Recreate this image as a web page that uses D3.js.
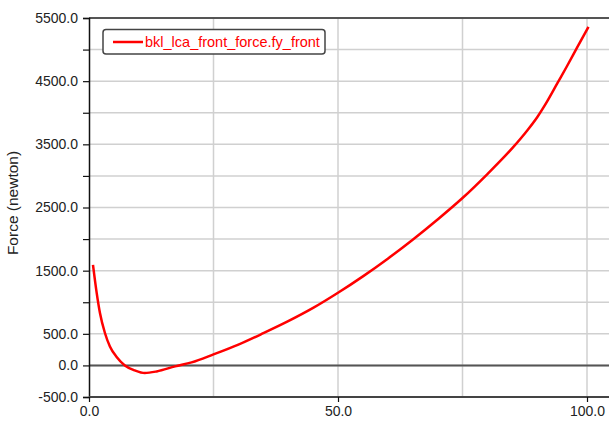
<!DOCTYPE html>
<html>
<head>
<meta charset="utf-8">
<script src="https://cdn.jsdelivr.net/npm/d3@7"></script>
<style>
  body { margin: 0; background: #fff; }
  text { font-family: "Liberation Sans", Arial, sans-serif; }
</style>
</head>
<body>
<div id="chart"></div>
<script>
var width = 609,
    height = 423;

// values
var timeVals = [0.8, 1.55, 2.2, 3.2, 4.2, 5.55, 7.2, 9.2, 11.2, 13.6, 17.3, 20.6, 25, 30, 35, 40, 45, 50, 55, 60, 65, 70, 75, 80, 85, 88, 90, 92, 94, 96, 98, 100.3];
var forceVals = [1593, 1145, 829, 513, 300, 133, 0, -79, -120, -95, -15, 48, 175, 330, 510, 700, 910, 1150, 1410, 1690, 1990, 2310, 2650, 3030, 3440, 3720, 3930, 4180, 4460, 4740, 5030, 5360];
var yTicks = [-500, 0, 500, 1000, 1500, 2000, 2500, 3000, 3500, 4000, 4500, 5000, 5500];
var yLabels = [-500, 0, 500, 1500, 2500, 3500, 4500, 5500];
var xGrid = [25, 50, 75, 100];
var xLabels = [0, 50, 100];
var seriesName = "bkl_lca_front_force.fy_front";

var svg = d3.select("#chart")
    .append("svg")
    .attr("width", width)
    .attr("height", height)

var x = d3.scaleLinear().domain([0, 100]).range([89, 587])
var y = d3.scaleLinear().domain([-500, 5500]).range([397, 18])

var left = x(0), right = width

// grid
svg.selectAll(".hgrid")
    .data(yTicks)
    .enter().append("line")
    .attr("class", "hgrid")
    .attr("x1", left).attr("x2", right)
    .attr("y1", d => y(d)).attr("y2", d => y(d))
    .attr("stroke", "#d0d0d0")
    .attr("stroke-width", 1.5)

svg.selectAll(".vgrid")
    .data(xGrid)
    .enter().append("line")
    .attr("class", "vgrid")
    .attr("x1", d => x(d)).attr("x2", d => x(d))
    .attr("y1", y(5500)).attr("y2", y(-500))
    .attr("stroke", "#d0d0d0")
    .attr("stroke-width", 1.5)

// frame lines
svg.append("line")
    .attr("x1", left).attr("x2", right)
    .attr("y1", y(5500)).attr("y2", y(5500))
    .attr("stroke", "#555").attr("stroke-width", 2)
svg.append("line")
    .attr("x1", left).attr("x2", right)
    .attr("y1", y(0)).attr("y2", y(0))
    .attr("stroke", "#555").attr("stroke-width", 2)

// y axis
var yAxis = d3.axisLeft(y)
    .tickValues(yTicks)
    .tickSize(6)
    .tickFormat(d => yLabels.indexOf(d) >= 0 ? d.toFixed(1) : "")
var gy = svg.append("g")
    .attr("transform", "translate(" + left + ",0)")
    .call(yAxis)
gy.select(".domain").attr("stroke", "#111").attr("stroke-width", 1.5)
gy.selectAll(".tick line").attr("stroke", "#111").attr("stroke-width", 1.2)
gy.selectAll(".tick text")
    .attr("x", -11)
    .attr("fill", "#222")
    .style("font-size", "14px")
    .style("font-family", "Liberation Sans, Arial, sans-serif")

// x axis
var xAxis = d3.axisBottom(x)
    .tickValues(xLabels)
    .tickSize(5)
    .tickSizeOuter(0)
    .tickFormat(d => d.toFixed(1))
var gx = svg.append("g")
    .attr("transform", "translate(0," + y(-500) + ")")
    .call(xAxis)
gx.select(".domain").attr("d", "M" + left + ",0H" + right).attr("stroke", "#444").attr("stroke-width", 2)
gx.selectAll(".tick line").attr("stroke", "#111").attr("stroke-width", 1.2)
gx.selectAll(".tick text")
    .attr("y", 9)
    .attr("fill", "#222")
    .style("font-size", "14px")
    .style("font-family", "Liberation Sans, Arial, sans-serif")

// y title
svg.append("text")
    .attr("transform", "translate(18,203) rotate(-90)")
    .attr("text-anchor", "middle")
    .attr("fill", "#222")
    .style("font-size", "15.5px")
    .text("Force (newton)")

// curve
var pts = timeVals.map((t, i) => [t, forceVals[i]])
var line = d3.line()
    .x(d => x(d[0]))
    .y(d => y(d[1]))
    .curve(d3.curveMonotoneX)

svg.append("path")
    .datum(pts)
    .attr("d", line)
    .attr("fill", "none")
    .attr("stroke", "#ff0000")
    .attr("stroke-width", 2.5)
    .attr("stroke-linejoin", "round")

// legend
var lg = svg.append("g")
lg.append("rect")
    .attr("x", 103).attr("y", 29.5)
    .attr("width", 222).attr("height", 24.5)
    .attr("rx", 3)
    .attr("fill", "#fff")
    .attr("stroke", "#444")
    .attr("stroke-width", 1.5)
lg.append("line")
    .attr("x1", 113).attr("x2", 143)
    .attr("y1", 42).attr("y2", 42)
    .attr("stroke", "#ff0000")
    .attr("stroke-width", 2.5)
lg.append("text")
    .attr("x", 145).attr("y", 47)
    .attr("fill", "#ff0000")
    .style("font-size", "14.5px")
    .text(seriesName)
</script>
</body>
</html>
